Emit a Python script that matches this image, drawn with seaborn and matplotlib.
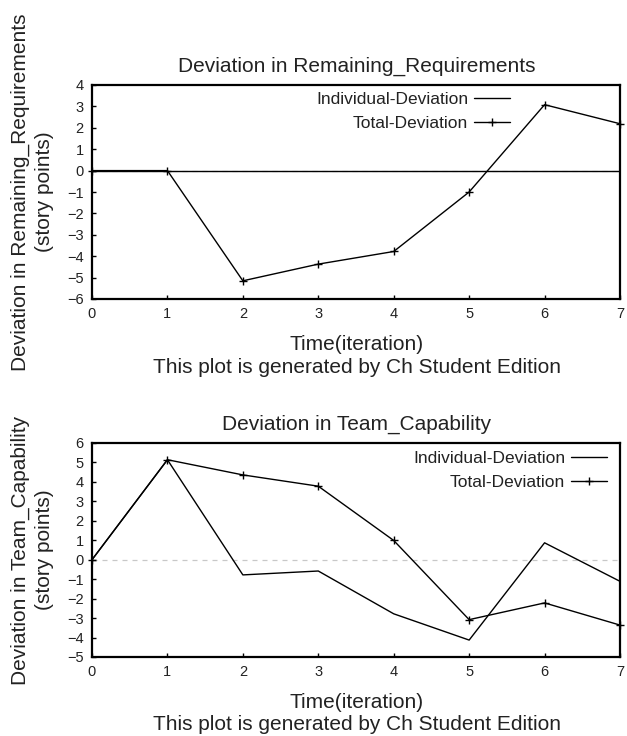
import matplotlib
matplotlib.use("Agg")
import matplotlib.pyplot as plt
import seaborn as sns
import numpy as np
from matplotlib.lines import Line2D

sns.set_theme(style="white")
plt.rcParams['font.family'] = ['Liberation Sans', 'DejaVu Sans']

# ---- data ----
time = [0, 1, 2, 3, 4, 5, 6, 7]
rr_individual = [0, 0, 0, 0, 0, 0, 0, 0]
rr_total = [0, 0, -5.15, -4.37, -3.78, -1.0, 3.08, 2.19]
tc_individual = [0, 5.14, -0.78, -0.58, -2.78, -4.13, 0.87, -1.11]
tc_total = [0, 5.14, 4.36, 3.78, 0.99, -3.08, -2.22, -3.36]

titles = ["Deviation in Remaining_Requirements", "Deviation in Team_Capability"]
ylabels = ["Deviation in Remaining_Requirements", "Deviation in Team_Capability"]
ylabel2 = "(story points)"
xlabel = "Time(iteration)"
note = "This plot is generated by Ch Student Edition"
series_names = ["Individual-Deviation", "Total-Deviation"]
yticks_top = list(range(-6, 5))
yticks_bot = list(range(-5, 7))
xticks = list(range(0, 8))

W, H = 627, 736
fig = plt.figure(figsize=(W / 100, H / 100), dpi=100)
fig.patch.set_facecolor("white")


def px_axes(left, right, top, bottom):
    return fig.add_axes([left / W, 1 - bottom / H, (right - left) / W, (bottom - top) / H])


panels = [
    dict(top=85, bottom=299, ind=rr_individual, tot=rr_total, ylim=(-6, 4), yt=yticks_top,
         title=titles[0], ylab=ylabels[0], leg_right=510, leg_top=92),
    dict(top=443, bottom=657, ind=tc_individual, tot=tc_total, ylim=(-5, 6), yt=yticks_bot,
         title=titles[1], ylab=ylabels[1], leg_right=607, leg_top=451),
]

for p in panels:
    ax = px_axes(92, 620, p["top"], p["bottom"])
    ax.set_facecolor("white")
    ax.axhline(0, color="#c8c8c8", lw=0.9, ls=(0, (4, 4)), zorder=1)
    sns.lineplot(x=time, y=p["ind"], ax=ax, color="black", lw=1.0, zorder=3)
    sns.lineplot(x=time, y=p["tot"], ax=ax, color="black", lw=1.0, marker="+",
                 markersize=6, markeredgecolor="black", markeredgewidth=1.0, zorder=4,
                 clip_on=False)
    ax.set_xlim(0, 7)
    ax.set_ylim(*p["ylim"])
    ax.set_xticks(xticks)
    ax.set_yticks(p["yt"])
    ax.tick_params(direction="in", length=3, width=1, colors="black", labelsize=10.5,
                   top=False, right=False, left=True, bottom=True, pad=6)
    for lab in ax.get_xticklabels() + ax.get_yticklabels():
        lab.set_color("#222222")
    for s in ax.spines.values():
        s.set_visible(True)
        s.set_color("black")
        s.set_linewidth(1.6)
    ax.set_xlabel("")
    ax.set_ylabel("")
    handles = [Line2D([], [], color="black", lw=1.0),
               Line2D([], [], color="black", lw=1.0, marker="+", markersize=6, mew=1.0)]
    leg = ax.legend(handles, series_names, loc="upper right", frameon=False,
                    markerfirst=False, fontsize=12.5, handlelength=2.1, handletextpad=0.3,
                    borderpad=0, borderaxespad=0, labelspacing=0.52, numpoints=1,
                    bbox_to_anchor=(p["leg_right"] / W, 1 - p["leg_top"] / H),
                    bbox_transform=fig.transFigure)
    for t in leg.get_texts():
        t.set_color("#222222")

    cy = (p["top"] + p["bottom"]) / 2
    fig.text(357 / W, 1 - (p["top"] - 19) / H, p["title"], ha="center", va="center",
             fontsize=15, color="#222222")
    fig.text(357 / W, 1 - (p["bottom"] + 46) / H, xlabel, ha="center", va="center",
             fontsize=15, color="#222222")
    fig.text(357 / W, 1 - (p["bottom"] + 68) / H, note, ha="center", va="center",
             fontsize=15, color="#222222")
    fig.text(20 / W, 1 - cy / H, p["ylab"], ha="center", va="center", rotation=90,
             fontsize=15, color="#222222")
    fig.text(45 / W, 1 - cy / H, ylabel2, ha="center", va="center", rotation=90,
             fontsize=15, color="#222222")

fig.savefig("out.png", dpi=100, facecolor="white")
